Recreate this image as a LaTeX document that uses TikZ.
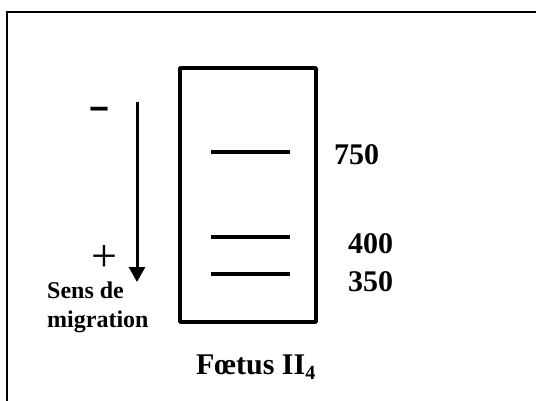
\documentclass[tikz,border=0pt]{standalone}
\usepackage{fontspec}
\setmainfont{Liberation Serif}
\usetikzlibrary{arrows.meta}
\begin{document}
\begin{tikzpicture}[x=1pt,y=-1pt,
  band/.style={line width=3.6pt},
  lbl/.style={font=\fontsize{30}{32}\selectfont\bfseries, inner sep=0pt},
  small/.style={font=\fontsize{24}{26}\selectfont\bfseries, inner sep=0pt, anchor=west}]
\useasboundingbox (0,0) rectangle (536,400);
\clip (0,0) rectangle (536,400);
\fill[white] (0,0) rectangle (536,400);
\draw[line width=2.2pt] (7,12) rectangle (560,420);
% gel
\draw[line width=3.4pt, line join=round] (180,68) rectangle (316,322);
\coordinate (b1l) at (211,152); \coordinate (b1r) at (290,152);
\coordinate (b2l) at (211,237); \coordinate (b2r) at (290,237);
\coordinate (b3l) at (211,274); \coordinate (b3r) at (290,274);
\draw[band] (b1l) -- (b1r);
\draw[band] (b2l) -- (b2r);
\draw[band] (b3l) -- (b3r);
\node[lbl, anchor=west] (n750) at (334,155) {750};
\node[lbl, anchor=west] (n400) at (348,244) {400};
\node[lbl, anchor=west] (n350) at (348,282) {350};
% arrow
\coordinate (a1) at (137,102);
\coordinate (a2) at (137,282);
\draw[line width=3pt, -{Triangle[length=15pt,width=16pt]}] (a1) -- (a2);
\node[font=\fontsize{44}{44}\selectfont\bfseries, inner sep=0pt] (minus) at (99,113) {\scalebox{1.5}[1]{-}};
\node[font=\fontsize{46}{46}\selectfont, inner sep=0pt] (plus) at (104.5,258) {+};
\node[small] (sens) at (47,290) {Sens de};
\node[small] (migr) at (47,322) {migration};
\node[lbl] (foetus) at (256,367) {Fœtus II\textsubscript{\fontsize{20}{20}\selectfont 4}};
\end{tikzpicture}
\end{document}
